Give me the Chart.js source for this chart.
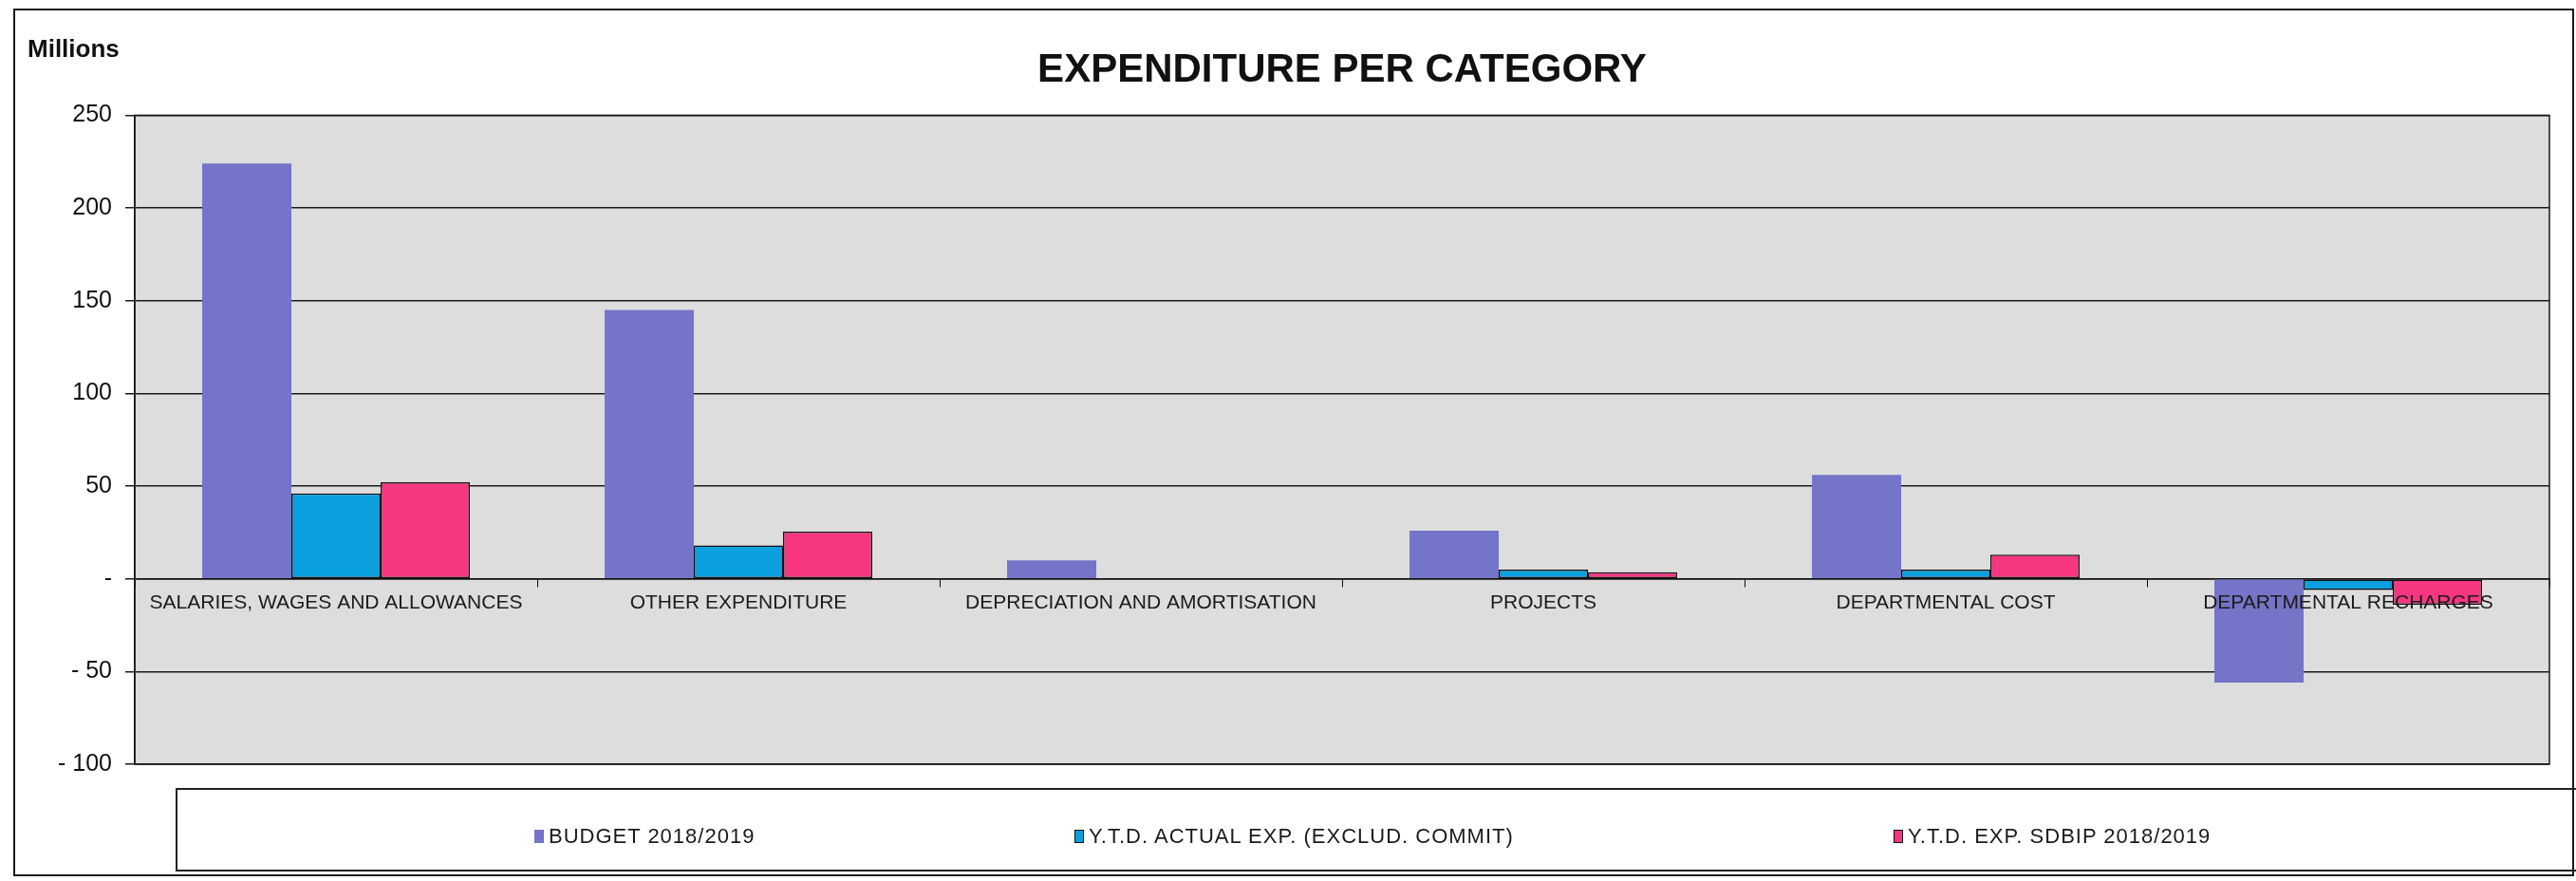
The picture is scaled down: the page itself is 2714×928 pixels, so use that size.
<!DOCTYPE html>
<html>
<head>
<meta charset="utf-8">
<title>Expenditure per category</title>
<script src="https://cdn.jsdelivr.net/npm/chart.js@4.4.1/dist/chart.umd.min.js"></script>
<style>
  html, body { margin: 0; padding: 0; background: #fff; overflow: hidden; }
  #wrap { position: relative; width: 2714px; height: 928px; }
  #legend {
    position: absolute; left: 185px; top: 830px; width: 2600px; height: 88px;
    border: 2px solid #222; border-right: none; box-sizing: border-box;
    font-family: "Liberation Sans", Arial, sans-serif; font-size: 22px; letter-spacing: 1px; color: #1a1a1a;
  }
  .item { position: absolute; top: 36px; display: flex; align-items: center; white-space: nowrap; }
  .swatch { width: 10px; height: 14px; margin-right: 5px; box-sizing: border-box; }
</style>
</head>
<body>
<div id="wrap">
  <canvas id="expChart" width="2714" height="928"></canvas>
  <div id="legend"></div>
</div>
<script>
// values in millions
const categories = [
    'SALARIES, WAGES AND ALLOWANCES',
    'OTHER EXPENDITURE',
    'DEPRECIATION AND AMORTISATION',
    'PROJECTS',
    'DEPARTMENTAL COST',
    'DEPARTMENTAL RECHARGES'
];
const budget = [224, 145, 10, 26, 56, -56];
const ytdActual = [46, 18, 0, 5, 5, -6];
const ytdSdbip = [52, 25.5, 0, 3.5, 13, -14];

const seriesNames = ['BUDGET 2018/2019', 'Y.T.D. ACTUAL EXP. (EXCLUD. COMMIT)', 'Y.T.D. EXP. SDBIP 2018/2019'];
const yTicks = { min: -100, max: 250, step: 50 };

// left offsets of the legend entries inside the legend box
const legendX = [376, 945, 1808];

Chart.defaults.font.family = '"Liberation Sans", Arial, sans-serif';
Chart.defaults.color = '#111';

// grey plot area, frames and the "Millions" unit label
const framePlugin = {
    id: 'framePlugin',
    beforeDraw(chart) {
        const { ctx, chartArea: a } = chart;
        ctx.save();
        ctx.fillStyle = '#dddddd';
        ctx.fillRect(a.left, a.top, a.right - a.left, a.bottom - a.top);
        ctx.restore();
    },
    afterDraw(chart) {
        const { ctx, chartArea: a } = chart;
        ctx.save();
        ctx.strokeStyle = '#1a1a1a';
        ctx.lineWidth = 1.5;
        ctx.strokeRect(a.left, a.top, a.right - a.left, a.bottom - a.top);
        ctx.lineWidth = 2;
        ctx.strokeRect(15, 10, chart.width - 18, chart.height - 16);
        ctx.fillStyle = '#111';
        ctx.font = 'bold 26px "Liberation Sans", Arial, sans-serif';
        ctx.textBaseline = 'middle';
        ctx.fillText('Millions', 29, 53);
        ctx.restore();
    }
};

const ctx = document.getElementById('expChart').getContext('2d');
const expChart = new Chart(ctx, {
    type: 'bar',
    data: {
        labels: categories,
        datasets: [
            {
                label: seriesNames[0],
                data: budget,
                backgroundColor: '#7474c9',
                borderWidth: 0
            },
            {
                label: seriesNames[1],
                data: ytdActual,
                backgroundColor: '#0c9fdf',
                borderColor: '#111',
                borderWidth: 1.5,
                borderSkipped: false
            },
            {
                label: seriesNames[2],
                data: ytdSdbip,
                backgroundColor: '#f73682',
                borderColor: '#111',
                borderWidth: 1.5,
                borderSkipped: false
            }
        ]
    },
    options: {
        responsive: false,
        animation: false,
        layout: { padding: { left: 50, right: 28, top: 0, bottom: 123 } },
        datasets: { bar: { barPercentage: 1, categoryPercentage: 0.665 } },
        scales: {
            x: {
                position: { y: 0 },
                grid: { display: true, drawOnChartArea: false, drawTicks: true, tickLength: 8, color: '#111', offset: true },
                border: { display: true, color: '#111', width: 1.5 },
                // labels sit on top of the bars, like the sheet does
                ticks: { z: 1, autoSkip: false, maxRotation: 0, padding: 5, color: '#1a1a1a', font: { size: 21 } }
            },
            y: {
                min: yTicks.min,
                max: yTicks.max,
                afterFit: (scale) => { scale.width = 92; },
                grid: { color: '#1a1a1a', lineWidth: 1.5, tickLength: 10 },
                border: { display: true, color: '#111', width: 1.5 },
                ticks: {
                    stepSize: yTicks.step,
                    padding: 14,
                    color: '#111',
                    font: { size: 25 },
                    callback: function (v) {
                        if (v === 0) return '-';
                        return v < 0 ? '- ' + Math.abs(v) : String(v);
                    }
                }
            }
        },
        plugins: {
            legend: { display: false },
            tooltip: { enabled: false },
            title: {
                display: true,
                fullSize: false,
                text: 'EXPENDITURE PER CATEGORY',
                color: '#111',
                font: { size: 42, weight: 'bold' },
                padding: { top: 49, bottom: 22 }
            }
        }
    },
    plugins: [framePlugin]
});

// legend built from the datasets
const legendBox = document.getElementById('legend');
expChart.data.datasets.forEach((ds, i) => {
    const item = document.createElement('div');
    item.className = 'item';
    item.style.left = legendX[i] + 'px';
    const sw = document.createElement('span');
    sw.className = 'swatch';
    sw.style.background = ds.backgroundColor;
    if (ds.borderWidth) {
        sw.style.border = '1px solid ' + ds.borderColor;
    }
    const txt = document.createElement('span');
    txt.textContent = ds.label;
    item.appendChild(sw);
    item.appendChild(txt);
    legendBox.appendChild(item);
});
</script>
</body>
</html>
